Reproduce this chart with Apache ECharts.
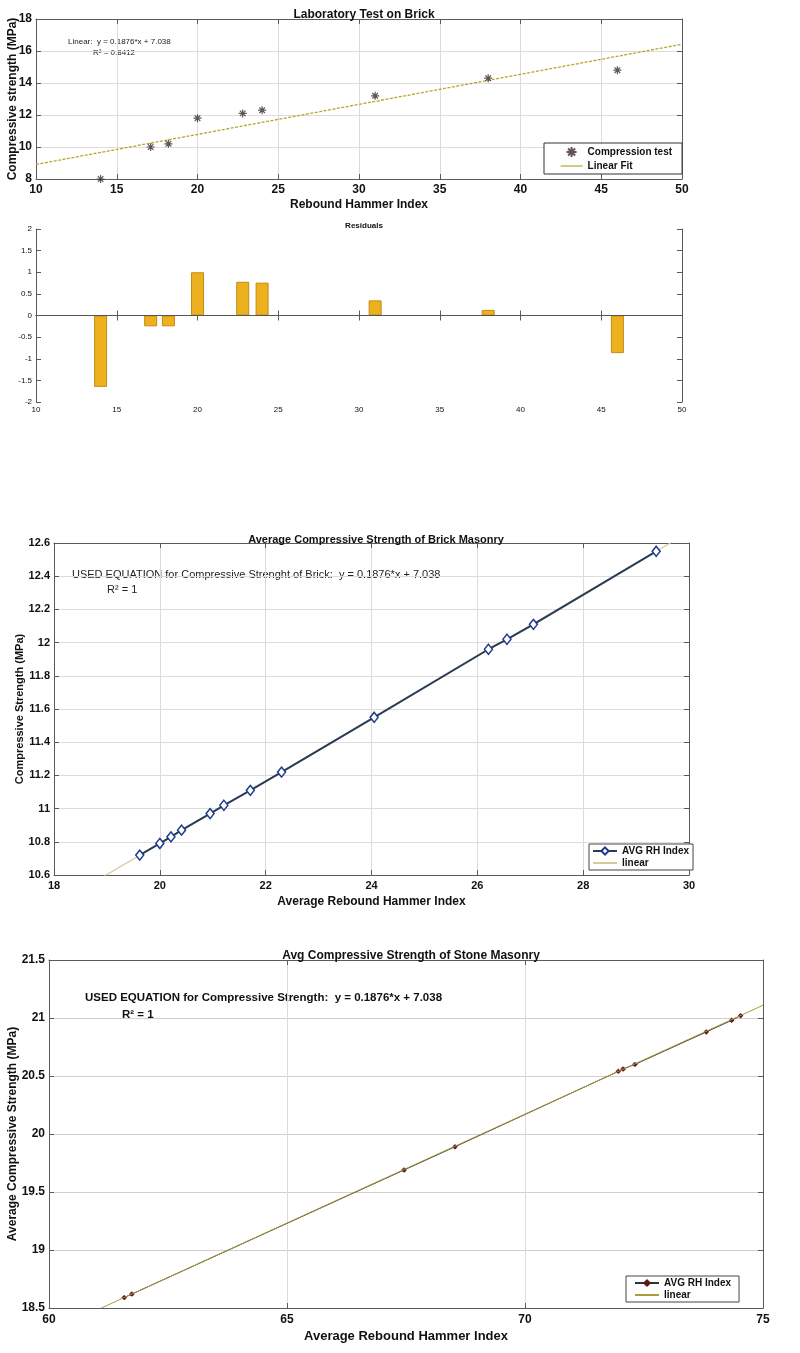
<!DOCTYPE html>
<html>
<head>
<meta charset="utf-8">
<script src="https://cdn.jsdelivr.net/npm/echarts@6/dist/echarts.min.js"></script>
<style>
html,body{margin:0;padding:0;background:#fff;}
#c{width:800px;height:1353px;}
</style>
</head>
<body>
<div id="c"></div>
<script>
// ---------- data ----------
const brickRH        = [14, 17.1, 18.2, 20, 22.8, 24, 31, 38, 46];
const brickStrength  = [8.0, 10.0, 10.2, 11.8, 12.1, 12.3, 13.2, 14.3, 14.8];
const residuals      = [-1.65, -0.25, -0.25, 1.0, 0.78, 0.76, 0.35, 0.13, -0.87];
const fit1X = [10, 50];
const fit1Y = [8.91, 16.42];

const avgRHBrick = [19.62, 20.0, 20.21, 20.41, 20.95, 21.21, 21.71, 22.3, 24.05, 26.21, 26.56, 27.06, 29.38];
const avgCSBrick = [10.72, 10.79, 10.83, 10.87, 10.97, 11.02, 11.11, 11.22, 11.55, 11.96, 12.02, 12.11, 12.55];
const fit3X = [18.9, 29.7];
const fit3Y = [10.584, 12.61];

const avgRHStone = [61.58, 61.74, 67.46, 68.53, 71.96, 72.06, 72.31, 73.81, 74.34, 74.53];
const avgCSStone = [18.59, 18.62, 19.69, 19.89, 20.54, 20.56, 20.60, 20.88, 20.98, 21.02];
const fit4X = [61.1, 75];
const fit4Y = [18.50, 21.11];

// axis ranges [min, max, interval]
const x1Range = [10, 50, 5],   y1Range = [8, 18, 2];
const x2Range = [10, 50, 5],   y2Range = [-2, 2, 0.5];
const x3Range = [18, 30, 2],   y3Range = [10.6, 12.6, 0.2];
const x4Range = [60, 75, 5],   y4Range = [18.5, 21.5, 0.5];

const zip = (a, b) => a.map((v, i) => [v, b[i]]);

// ---------- styling helpers ----------
const FONT = 'Liberation Sans, Arial, sans-serif';
const AX = '#5a5a5a';
const fmt = v => String(+(+v).toFixed(2));

function mainX(grid, r, o) {
  o = o || {};
  return {
    type: 'value', gridIndex: grid, position: 'bottom',
    min: r[0], max: r[1], interval: r[2],
    name: o.name || '', nameLocation: 'middle', nameGap: o.nameGap || 20, nameMoveOverlap: false,
    nameTextStyle: { fontFamily: FONT, fontWeight: 'bold', fontSize: o.nameSize || 12, color: '#111' },
    axisLine: { show: true, lineStyle: { color: AX } },
    axisTick: { show: true, inside: true, length: 5, lineStyle: { color: AX } },
    axisLabel: { fontFamily: FONT, fontWeight: o.labelWeight || 'bold', fontSize: o.labelSize || 12, color: '#111', margin: o.margin || 5, formatter: fmt },
    splitLine: { show: o.split !== false, lineStyle: { color: o.gridColor || '#dcdcdc', width: 1 } }
  };
}
function mirrorX(grid, r) {
  return {
    type: 'value', gridIndex: grid, position: 'top',
    min: r[0], max: r[1], interval: r[2],
    axisLine: { show: true, lineStyle: { color: AX } },
    axisTick: { show: true, inside: true, length: 5, lineStyle: { color: AX } },
    axisLabel: { show: false }, splitLine: { show: false }
  };
}
function mainY(grid, r, o) {
  o = o || {};
  return {
    type: 'value', gridIndex: grid, position: 'left',
    min: r[0], max: r[1], interval: r[2],
    name: o.name || '', nameLocation: 'middle', nameRotate: 90, nameGap: o.nameGap || 20, nameMoveOverlap: false,
    nameTextStyle: { fontFamily: FONT, fontWeight: 'bold', fontSize: o.nameSize || 12, color: '#111' },
    axisLine: { show: true, lineStyle: { color: AX } },
    axisTick: { show: true, inside: true, length: 5, lineStyle: { color: AX } },
    axisLabel: { fontFamily: FONT, fontWeight: o.labelWeight || 'bold', fontSize: o.labelSize || 12, color: '#111', margin: o.margin || 4, formatter: fmt },
    splitLine: { show: o.split !== false, lineStyle: { color: o.gridColor || '#dcdcdc', width: 1 } }
  };
}
function mirrorY(grid, r) {
  return {
    type: 'value', gridIndex: grid, position: 'right',
    min: r[0], max: r[1], interval: r[2],
    axisLine: { show: true, lineStyle: { color: AX } },
    axisTick: { show: true, inside: true, length: 5, lineStyle: { color: AX } },
    axisLabel: { show: false }, splitLine: { show: false }
  };
}

const starPath = 'path://M5,0L5,10M0,5L10,5M1.5,1.5L8.5,8.5M8.5,1.5L1.5,8.5';
const plusPath = 'path://M5,0L5,10M0,5L10,5M2,2L8,8M8,2L2,8';
const noMark = { opacity: 0 };

const chart = echarts.init(document.getElementById('c'), null, { renderer: 'canvas' });

const option = {
  backgroundColor: '#ffffff',
  animation: false,
  textStyle: { fontFamily: FONT },
  title: [
    { text: 'Laboratory Test on Brick', left: 359, top: 4, textAlign: 'center',
      textStyle: { fontFamily: FONT, fontWeight: 'bold', fontSize: 12, color: '#111' } },
    { text: 'Residuals', left: 359, top: 217, textAlign: 'center',
      textStyle: { fontFamily: FONT, fontWeight: 'bold', fontSize: 8, color: '#111' } },
    { text: 'Average Compressive Strength of Brick Masonry', left: 371, top: 529, textAlign: 'center',
      textStyle: { fontFamily: FONT, fontWeight: 'bold', fontSize: 11, color: '#111' } },
    { text: 'Avg Compressive Strength of Stone Masonry', left: 406, top: 945, textAlign: 'center',
      textStyle: { fontFamily: FONT, fontWeight: 'bold', fontSize: 12, color: '#111' } }
  ],
  grid: [
    { left: 36, top: 19, width: 646, height: 160, outerBoundsMode: 'none', containLabel: false },
    { left: 36, top: 229, width: 646, height: 173, outerBoundsMode: 'none', containLabel: false },
    { left: 54, top: 543, width: 635, height: 332, outerBoundsMode: 'none', containLabel: false },
    { left: 49, top: 960, width: 714, height: 348, outerBoundsMode: 'none', containLabel: false }
  ],
  xAxis: [
    mainX(0, x1Range, { name: 'Rebound Hammer Index', nameGap: 20, nameSize: 12 }), mirrorX(0, x1Range),
    mainX(1, x2Range, { split: false, labelWeight: 'normal', labelSize: 8, margin: 4 }), mirrorX(1, x2Range),
    mainX(2, x3Range, { name: 'Average Rebound Hammer Index', nameGap: 21, nameSize: 12, labelSize: 11 }), mirrorX(2, x3Range),
    mainX(3, x4Range, { name: 'Average Rebound Hammer Index', nameGap: 22, nameSize: 13, margin: 6 }), mirrorX(3, x4Range)
  ],
  yAxis: [
    mainY(0, y1Range, { name: 'Compressive strength (MPa)', nameGap: 17, nameSize: 12 }), mirrorY(0, y1Range),
    mainY(1, y2Range, { split: false, labelWeight: 'normal', labelSize: 8, margin: 4 }), mirrorY(1, y2Range),
    mainY(2, y3Range, { name: 'Compressive Strength (MPa)', nameGap: 29, nameSize: 11, labelSize: 11 }), mirrorY(2, y3Range),
    mainY(3, y4Range, { name: 'Average Compressive Strength (MPa)', nameGap: 30, nameSize: 12, gridColor: '#d0d0d0' }), mirrorY(3, y4Range)
  ],
  legend: [
    { data: ['Compression test', { name: 'Linear Fit', itemStyle: noMark }], orient: 'vertical', left: 544, top: 143,
      padding: [3, 10, 3, 16], itemGap: 3, itemWidth: 22, itemHeight: 10,
      borderColor: '#333', borderWidth: 1, backgroundColor: '#fff', borderRadius: 0,
      lineStyle: { type: 'solid', width: 1.2 },
      textStyle: { fontFamily: FONT, fontWeight: 'bold', fontSize: 10, color: '#111' } },
    { data: ['AVG RH Index', { name: 'linear', itemStyle: noMark }], orient: 'vertical', left: 589, top: 844,
      padding: [2, 4, 2, 3], itemGap: 2, itemWidth: 24, itemHeight: 9,
      borderColor: '#444', borderWidth: 1, backgroundColor: '#fff', borderRadius: 0,
      textStyle: { fontFamily: FONT, fontWeight: 'bold', fontSize: 10, color: '#111' } },
    { data: ['AVG RH Index ', { name: 'linear ', itemStyle: noMark }], orient: 'vertical', left: 626, top: 1276,
      padding: [2, 8, 2, 8], itemGap: 2, itemWidth: 24, itemHeight: 9,
      borderColor: '#444', borderWidth: 1, backgroundColor: '#fff', borderRadius: 0,
      formatter: n => n.trim(),
      textStyle: { fontFamily: FONT, fontWeight: 'bold', fontSize: 10, color: '#111' } }
  ],
  graphic: [
    { type: 'text', left: 68, top: 38, style: { text: 'Linear:  y = 0.1876*x + 7.038', font: '8px ' + FONT, fill: '#222' } },
    { type: 'text', left: 93, top: 49, style: { text: 'R² = 0.8412', font: '8px ' + FONT, fill: '#222' } },
    { type: 'text', left: 72, top: 569, style: { text: 'USED EQUATION for Compressive Strenght of Brick:  y = 0.1876*x + 7.038', font: '11px ' + FONT, fill: '#222' } },
    { type: 'text', left: 107, top: 584, style: { text: 'R² = 1', font: '11px ' + FONT, fill: '#222' } },
    { type: 'text', left: 85, top: 992, style: { text: 'USED EQUATION for Compressive Strength:  y = 0.1876*x + 7.038', font: 'bold 11.5px ' + FONT, fill: '#111' } },
    { type: 'text', left: 122, top: 1009, style: { text: 'R² = 1', font: 'bold 11.5px ' + FONT, fill: '#111' } }
  ],
  series: [
    { name: 'Linear Fit', type: 'line', xAxisIndex: 0, yAxisIndex: 0, data: zip(fit1X, fit1Y),
      symbol: 'none', lineStyle: { color: '#b8a62a', width: 1.3, type: [3, 1.5] }, itemStyle: { color: '#b8a62a' }, z: 2 },
    { name: 'Compression test', type: 'scatter', xAxisIndex: 0, yAxisIndex: 0, data: zip(brickRH, brickStrength),
      symbol: starPath, symbolSize: 8,
      itemStyle: { color: 'rgba(0,0,0,0)', borderColor: '#3a2a2a', borderWidth: 1.2 }, z: 3 },
    { name: 'Residuals', type: 'bar', xAxisIndex: 2, yAxisIndex: 2, data: zip(brickRH, residuals),
      barWidth: 13, itemStyle: { color: '#EDB120', borderColor: '#c48c12', borderWidth: 1 },
      markLine: { silent: true, symbol: 'none', label: { show: false },
        lineStyle: { color: '#555', width: 1, type: 'solid' }, data: [{ yAxis: 0 }] } },
    { name: 'linear', type: 'line', xAxisIndex: 4, yAxisIndex: 4, data: zip(fit3X, fit3Y),
      symbol: 'none', lineStyle: { color: '#d8c89a', width: 1.2 }, itemStyle: { color: '#d8c89a' }, z: 2 },
    { name: 'AVG RH Index', type: 'line', xAxisIndex: 4, yAxisIndex: 4, data: zip(avgRHBrick, avgCSBrick),
      symbol: 'diamond', symbolSize: [8, 10], showAllSymbol: true,
      lineStyle: { color: '#2a3c55', width: 2 },
      itemStyle: { color: '#ffffff', borderColor: '#1f3b8c', borderWidth: 1.5 }, z: 3 },
    { name: 'AVG RH Index ', type: 'line', xAxisIndex: 6, yAxisIndex: 6, data: zip(avgRHStone, avgCSStone),
      symbol: plusPath, symbolSize: 5, showAllSymbol: true,
      lineStyle: { color: '#333', width: 1 },
      itemStyle: { color: 'rgba(0,0,0,0)', borderColor: '#5a1a1a', borderWidth: 1.2 }, z: 2 },
    { name: 'linear ', type: 'line', xAxisIndex: 6, yAxisIndex: 6, data: zip(fit4X, fit4Y),
      symbol: 'none', lineStyle: { color: '#a99a3c', width: 1 }, itemStyle: { color: '#a99a3c' }, z: 3 }
  ]
};
chart.setOption(option);
</script>
</body>
</html>
